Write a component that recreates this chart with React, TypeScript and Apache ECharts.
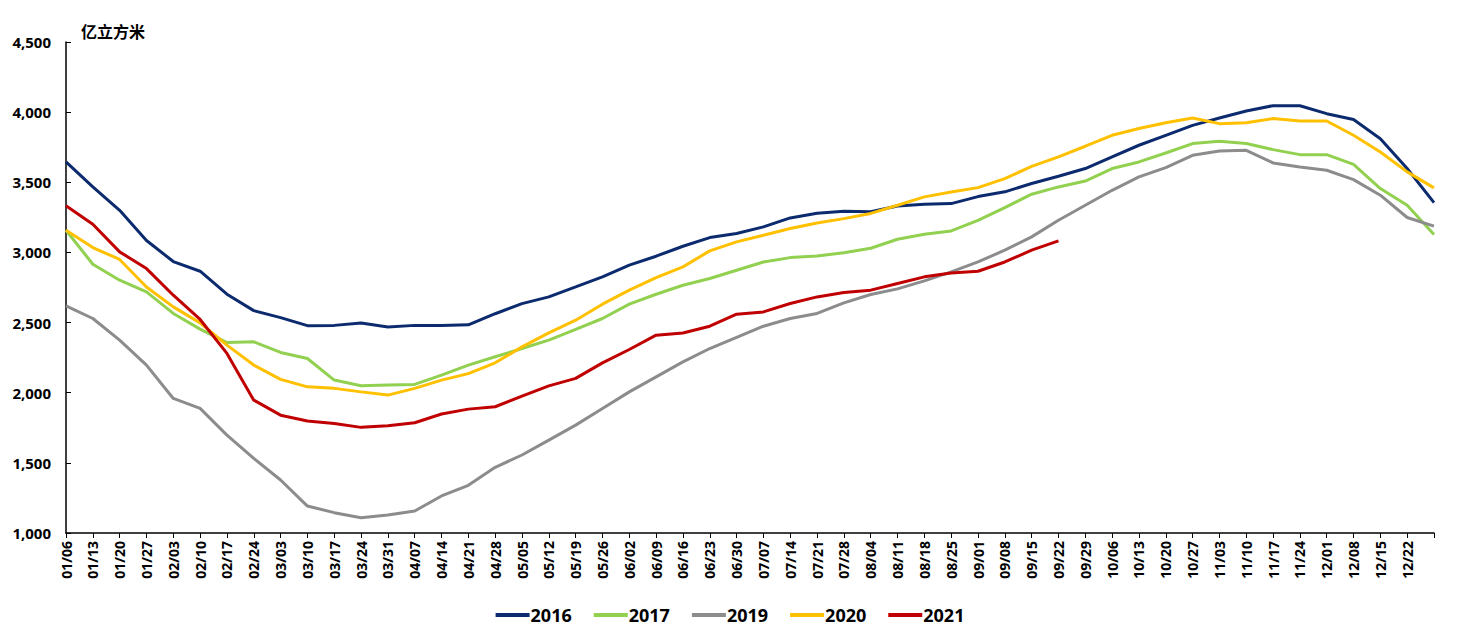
import React, { useEffect, useRef } from "react";
import * as echarts from "echarts";

const categories = [
  "01/06","01/13","01/20","01/27","02/03","02/10","02/17","02/24","03/03","03/10",
  "03/17","03/24","03/31","04/07","04/14","04/21","04/28","05/05","05/12","05/19",
  "05/26","06/02","06/09","06/16","06/23","06/30","07/07","07/14","07/21","07/28",
  "08/04","08/11","08/18","08/25","09/01","09/08","09/15","09/22","09/29","10/06",
  "10/13","10/20","10/27","11/03","11/10","11/17","11/24","12/01","12/08","12/15",
  "12/22","12/29"
];

const s2016 = [
  3645,3467,3300,3085,2935,2866,2702,2585,2535,2478,
  2480,2497,2468,2480,2480,2484,2563,2635,2683,2754,
  2826,2909,2973,3044,3106,3135,3182,3246,3280,3294,
  3290,3331,3343,3348,3398,3432,3491,3543,3598,3681,
  3764,3835,3906,3958,4008,4046,4046,3989,3947,3811,
  3598,3355
];
const s2017 = [
  3158,2916,2802,2719,2565,2453,2358,2363,2287,2244,
  2090,2049,2055,2059,2125,2197,2256,2315,2375,2451,
  2529,2631,2702,2766,2814,2873,2932,2963,2975,2997,
  3030,3094,3130,3153,3229,3320,3415,3467,3509,3598,
  3645,3709,3776,3792,3776,3733,3697,3697,3628,3455,
  3336,3127
];
const s2019 = [
  2619,2529,2375,2197,1959,1888,1698,1532,1378,1192,
  1145,1109,1128,1157,1264,1340,1468,1556,1662,1769,
  1888,2006,2113,2220,2315,2394,2474,2529,2565,2640,
  2700,2740,2797,2861,2932,3016,3111,3229,3336,3443,
  3538,3605,3692,3723,3728,3638,3609,3586,3519,3408,
  3249,3187
];
const s2020 = [
  3158,3035,2950,2754,2612,2498,2339,2197,2095,2042,
  2031,2006,1983,2031,2090,2136,2213,2327,2426,2517,
  2631,2731,2821,2897,3011,3075,3123,3170,3210,3241,
  3278,3336,3396,3431,3462,3526,3614,3681,3757,3835,
  3883,3925,3958,3918,3925,3954,3937,3937,3835,3716,
  3574,3460
];
const s2021 = [
  3332,3201,3004,2885,2695,2522,2280,1947,1840,1798,
  1781,1753,1764,1786,1848,1883,1900,1976,2049,2102,
  2213,2308,2410,2426,2474,2560,2576,2636,2683,2714,
  2731,2779,2826,2854,2866,2932,3016,3082
];

const seriesNames = ["2016", "2017", "2019", "2020", "2021"];
const seriesColors = ["#0C2B6E", "#92D050", "#8C8C8C", "#FFC000", "#C00000"];
const seriesData = [s2016, s2017, s2019, s2020, s2021];

const yMin = 1000;
const yMax = 4500;
const yInterval = 500;
const unitLabel = "亿立方米";

const FONT = "'Open Sans', 'Noto Sans', 'Noto Sans CJK SC', sans-serif";

export default function App() {
  const ref = useRef<HTMLDivElement>(null);
  useEffect(() => {
    if (!ref.current) return;
    const chart = echarts.init(ref.current, undefined, { renderer: "svg" });
    chart.setOption({
      animation: false,
      backgroundColor: "#ffffff",
      grid: { left: 66, right: 26, top: 42, bottom: 100, containLabel: false },
      graphic: [
        {
          type: "text",
          left: 81,
          top: 24,
          style: {
            text: unitLabel,
            fontSize: 16,
            fontWeight: "bold",
            fontFamily: FONT,
            fill: "#000",
          },
        },
      ],
      legend: {
        bottom: 4,
        left: "center",
        itemWidth: 34,
        itemHeight: 4,
        itemGap: 22,
        icon: "rect",
        textStyle: { fontSize: 18, fontWeight: "bold", fontFamily: FONT, color: "#000", padding: [0, 0, 0, -4] },
        data: seriesNames,
      },
      xAxis: {
        type: "category",
        data: categories,
        boundaryGap: false,
        axisLine: { lineStyle: { color: "#000", width: 1.5 } },
        axisTick: { show: true, alignWithLabel: true, length: 5, lineStyle: { color: "#000" }, interval: 0 },
        axisLabel: {
          interval: 0,
          rotate: 90,
          margin: 8,
          fontSize: 14,
          fontWeight: "bold",
          fontFamily: FONT,
          color: "#000",
          formatter: (v: string, i: number) => (i === categories.length - 1 ? "" : v),
        },
        splitLine: { show: false },
      },
      yAxis: {
        type: "value",
        min: yMin,
        max: yMax,
        interval: yInterval,
        axisLine: { show: true, lineStyle: { color: "#000", width: 1.5 } },
        axisTick: { show: true, inside: true, length: 5, lineStyle: { color: "#000" } },
        axisLabel: {
          margin: 15,
          fontSize: 15,
          fontWeight: "bold",
          fontFamily: FONT,
          color: "#000",
          formatter: (v: number) => v.toLocaleString("en-US"),
        },
        splitLine: { show: false },
      },
      series: seriesNames.map((name, k) => ({
        name,
        type: "line",
        data: seriesData[k],
        symbol: "none",
        smooth: false,
        lineStyle: { width: 3, color: seriesColors[k] },
        itemStyle: { color: seriesColors[k] },
      })),
    });
    return () => chart.dispose();
  }, []);
  return (
    <div
      ref={ref}
      style={{ position: "fixed", left: 0, top: 0, width: 1460, height: 633, background: "#fff" }}
    />
  );
}
